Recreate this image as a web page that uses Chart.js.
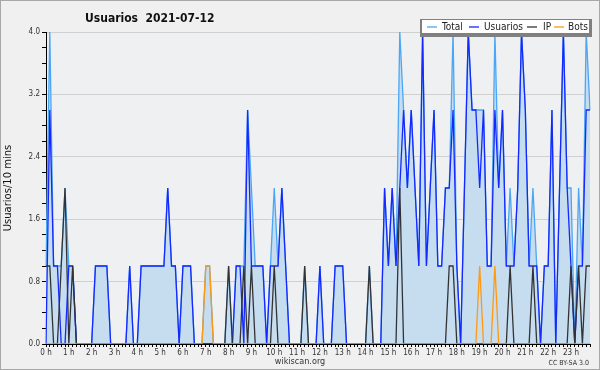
<!DOCTYPE html>
<html>
<head>
<meta charset="utf-8">
<script src="https://cdn.jsdelivr.net/npm/chart.js@4.4.1/dist/chart.umd.min.js"></script>
<style>
  html, body { margin: 0; padding: 0; background: #f0f0f0; overflow: hidden; }
  canvas { display: block; }
</style>
</head>
<body>
<canvas id="c" width="600" height="370"></canvas>
<script>
const chartTitle = 'Usuarios  2021-07-12';
const yTitle = 'Usuarios/10 mins';
const hourLabels = ['0 h','1 h','2 h','3 h','4 h','5 h','6 h','7 h','8 h','9 h','10 h','11 h',
                    '12 h','13 h','14 h','15 h','16 h','17 h','18 h','19 h','20 h','21 h','22 h','23 h'];
const yTickValues = [0.0, 0.8, 1.6, 2.4, 3.2, 4.0];
const seriesNames = ['Total', 'Usuarios', 'IP', 'Bots'];

// one value per 10 minutes, 144 slots
const total = [
  1,4,1,1,1,2, 1,1,0,0,0,0, 0,1,1,1,1,0, 0,0,0,0,1,0,
  0,1,1,1,1,1, 1,1,2,1,1,0, 1,1,1,0,0,0, 1,1,0,0,0,0,
  1,0,1,1,1,3, 2,1,1,1,0,1, 2,1,2,1,0,0, 0,0,1,0,0,0,
  1,0,0,0,1,1, 1,0,0,0,0,0, 0,1,0,0,0,2, 1,2,1,4,3,2,
  3,2,1,4,1,2, 3,1,1,2,2,4, 1,0,2,4,3,3, 3,3,1,1,4,2,
  3,1,2,1,2,4, 3,1,2,1,0,1, 1,3,0,2,4,2, 2,0,2,1,4,3
];
const usuarios = [
  0,3,1,1,0,0, 1,1,0,0,0,0, 0,1,1,1,1,0, 0,0,0,0,1,0,
  0,1,1,1,1,1, 1,1,2,1,1,0, 1,1,1,0,0,0, 0,0,0,0,0,0,
  0,0,1,1,0,3, 1,1,1,1,0,1, 1,1,2,1,0,0, 0,0,0,0,0,0,
  1,0,0,0,1,1, 1,0,0,0,0,0, 0,0,0,0,0,2, 1,2,1,2,3,2,
  3,2,1,4,1,2, 3,1,1,2,2,3, 1,0,2,4,3,3, 2,3,1,1,3,2,
  3,1,1,1,2,4, 3,1,1,1,0,1, 1,3,0,2,4,2, 1,0,1,1,3,3
];
const ip = [
  1,1,0,0,1,2, 0,1,0,0,0,0, 0,0,0,0,0,0, 0,0,0,0,0,0,
  0,0,0,0,0,0, 0,0,0,0,0,0, 0,0,0,0,0,0, 0,0,0,0,0,0,
  1,0,0,0,1,0, 1,0,0,0,0,0, 1,0,0,0,0,0, 0,0,1,0,0,0,
  0,0,0,0,0,0, 0,0,0,0,0,0, 0,1,0,0,0,0, 0,0,0,2,0,0,
  0,0,0,0,0,0, 0,0,0,0,1,1, 0,0,0,0,0,0, 0,0,0,0,0,0,
  0,0,1,0,0,0, 0,0,1,0,0,0, 0,0,0,0,0,0, 1,0,1,0,1,1
];
const bots = [
  0,0,0,0,0,0, 0,0,0,0,0,0, 0,0,0,0,0,0, 0,0,0,0,0,0,
  0,0,0,0,0,0, 0,0,0,0,0,0, 0,0,0,0,0,0, 1,1,0,0,0,0,
  0,0,0,0,0,0, 0,0,0,0,0,0, 0,0,0,0,0,0, 0,0,0,0,0,0,
  0,0,0,0,0,0, 0,0,0,0,0,0, 0,0,0,0,0,0, 0,0,0,0,0,0,
  0,0,0,0,0,0, 0,0,0,0,0,0, 0,0,0,0,0,0, 1,0,0,0,1,0,
  0,0,0,0,0,0, 0,0,0,0,0,0, 0,0,0,0,0,0, 0,0,0,0,0,0
];

const FONT = "'DejaVu Sans Condensed', 'DejaVu Sans', sans-serif";
const colors = { Total: '#4ba6f5', Usuarios: '#1428ff', IP: '#333333', Bots: '#ff9a10' };
const fillColor = '#c6dcef';

const slots = usuarios.map((_, i) => i);

function ds(label, data, order, fill) {
  return {
    label, data, order,
    borderColor: colors[label],
    backgroundColor: fill ? fillColor : colors[label],
    borderWidth: 1.3,
    pointRadius: 0,
    pointHoverRadius: 0,
    tension: 0,
    fill: fill ? 'origin' : false
  };
}

const isMajor = v => yTickValues.some(t => Math.abs(t - v) < 1e-6);

const decor = {
  id: 'decor',
  beforeDraw(chart) {
    const { ctx, chartArea: a } = chart;
    ctx.save();
    ctx.fillStyle = '#f0f0f0';
    ctx.fillRect(0, 0, chart.width, chart.height);
    ctx.fillStyle = '#eef0f1';
    ctx.fillRect(a.left, a.top, a.right - a.left, a.bottom - a.top);
    ctx.restore();
  },
  afterDraw(chart) {
    const { ctx } = chart;
    ctx.save();
    // title
    ctx.fillStyle = '#111';
    ctx.font = 'bold 12px ' + FONT;
    ctx.textBaseline = 'alphabetic';
    ctx.textAlign = 'left';
    ctx.fillText(chartTitle, 85, 22);

    // legend box
    ctx.fillStyle = '#808080';
    ctx.fillRect(420, 19, 172, 18);
    ctx.fillStyle = '#ffffff';
    ctx.fillRect(422, 20, 167, 13);
    const items = [
      { name: seriesNames[0], lx: 427, tx: 442 },
      { name: seriesNames[1], lx: 469, tx: 484 },
      { name: seriesNames[2], lx: 527, tx: 543 },
      { name: seriesNames[3], lx: 554, tx: 568 }
    ];
    ctx.font = '10px ' + FONT;
    ctx.textBaseline = 'middle';
    items.forEach(it => {
      ctx.strokeStyle = colors[it.name];
      ctx.lineWidth = 1.3;
      ctx.beginPath();
      ctx.moveTo(it.lx, 27);
      ctx.lineTo(it.lx + 10, 27);
      ctx.stroke();
      ctx.fillStyle = '#222';
      ctx.fillText(it.name, it.tx, 27);
    });

    // footer
    ctx.fillStyle = '#333';
    ctx.font = '9px ' + FONT;
    ctx.textAlign = 'center';
    ctx.fillText('wikiscan.org', 300, 362);
    ctx.font = '7px ' + FONT;
    ctx.textAlign = 'right';
    ctx.fillText('CC BY-SA 3.0', 589, 363);

    // outer frame
    ctx.strokeStyle = '#a8a8a8';
    ctx.lineWidth = 1;
    ctx.strokeRect(0.5, 0.5, chart.width - 1, chart.height - 1);
    ctx.restore();
  }
};

new Chart(document.getElementById('c'), {
  type: 'line',
  data: {
    labels: slots,
    datasets: [
      ds(seriesNames[0], total, 4, true),
      ds(seriesNames[1], usuarios, 3, false),
      ds(seriesNames[2], ip, 2, false),
      ds(seriesNames[3], bots, 1, false)
    ]
  },
  options: {
    responsive: false,
    animation: false,
    devicePixelRatio: 1,
    layout: { padding: { left: 0, right: 10, top: 32, bottom: 0 } },
    plugins: { legend: { display: false }, title: { display: false }, tooltip: { enabled: false } },
    scales: {
      x: {
        type: 'category',
        offset: false,
        afterFit: s => { s.height = 26; },
        grid: { drawOnChartArea: false, drawTicks: true, tickLength: 3, tickColor: '#000' },
        border: { color: '#000', width: 1 },
        ticks: {
          autoSkip: false, maxRotation: 0, minRotation: 0, padding: 1,
          color: '#333', font: { family: FONT, size: 8 },
          callback: (v, i) => (i % 6 === 0 ? hourLabels[i / 6] : '')
        }
      },
      y: {
        min: 0, max: 4,
        afterFit: s => { s.width = 46; },
        grid: {
          drawTicks: true, tickLength: 4, tickColor: '#000',
          color: c => (isMajor(c.tick.value) ? '#d0d0d0' : 'rgba(0,0,0,0)'),
          lineWidth: 1
        },
        border: { color: '#000', width: 1 },
        title: { display: true, text: yTitle, color: '#111', font: { family: "'DejaVu Sans', sans-serif", size: 10 }, padding: { top: 2, bottom: 2 } },
        ticks: {
          stepSize: 0.2, autoSkip: false, padding: 2,
          color: '#333', font: { family: FONT, size: 8 },
          callback: v => (isMajor(v) ? v.toFixed(1) : '')
        }
      }
    }
  },
  plugins: [decor]
});
</script>
</body>
</html>
